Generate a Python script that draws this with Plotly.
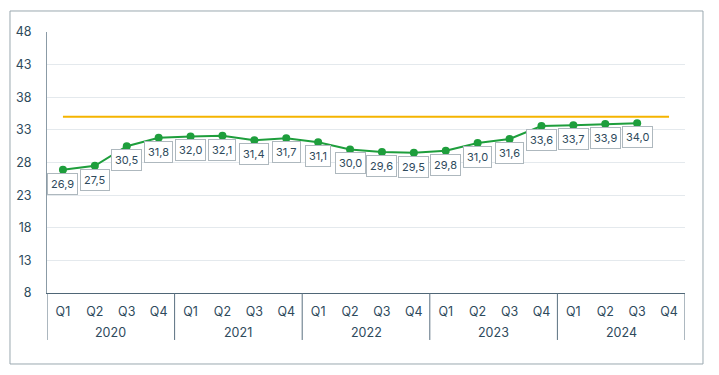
import plotly.graph_objects as go

years = ["2020", "2021", "2022", "2023", "2024"]
quarter_names = ["Q1", "Q2", "Q3", "Q4"]
categories = [f"{y} {q}" for y in years for q in quarter_names]
quarters = [q for y in years for q in quarter_names]
values = [26.9, 27.5, 30.5, 31.8, 32.0, 32.1, 31.4, 31.7, 31.1, 30.0,
          29.6, 29.5, 29.8, 31.0, 31.6, 33.6, 33.7, 33.9, 34.0]
target = [35] * 20
y_ticks = [8, 13, 18, 23, 28, 33, 38, 43, 48]

n = len(values)
FONT = "Inter, Roboto, sans-serif"
TXT = "#2e4a5c"

fig = go.Figure()
fig.add_trace(go.Scatter(
    x=categories, y=target, mode="lines",
    line=dict(color="#f5b400", width=2), hoverinfo="skip", showlegend=False))
fig.add_trace(go.Scatter(
    x=categories[:n], y=values, mode="lines+markers",
    line=dict(color="#1e9e3c", width=2), marker=dict(size=8, color="#1e9e3c"),
    showlegend=False))

for i, v in enumerate(values):
    fig.add_annotation(
        x=categories[i], y=v, text=f"{v:.1f}".replace(".", ","), showarrow=False,
        yshift=-14, bgcolor="white", bordercolor="#aeb8be", borderwidth=1,
        borderpad=3, font=dict(family=FONT, size=11, color=TXT))

# year group labels and dividers
for k, yr in enumerate(years):
    fig.add_annotation(
        x=4 * k + 1.5, xref="x", y=-0.153, yref="paper", text=yr,
        showarrow=False, yanchor="middle", font=dict(family=FONT, size=12.5, color=TXT))
for k in range(len(years) + 1):
    fig.add_shape(type="line", xref="x", yref="paper",
                  x0=4 * k - 0.5, x1=4 * k - 0.5, y0=0, y1=-0.18,
                  line=dict(color="#5a7080", width=1))

fig.add_shape(type="rect", xref="paper", yref="paper",
              x0=-0.058, x1=1.0282, y0=-0.272, y1=1.0805,
              line=dict(color="#9aa8b0", width=1))

fig.update_layout(
    width=719, height=375,
    margin=dict(l=39, r=42, t=24, b=90, autoexpand=False),
    paper_bgcolor="white", plot_bgcolor="white",
    font=dict(family=FONT, size=12, color=TXT),
    xaxis=dict(type="category", range=[-0.5, 19.5], autorange=False,
               automargin=False, tickvals=categories, ticktext=quarters,
               showgrid=False, showline=True, ticks="",
               linecolor="#4f6676", linewidth=1, ticklabelstandoff=7,
               tickfont=dict(size=12.5, color=TXT)),
    yaxis=dict(range=[8, 48], tickvals=y_ticks, showgrid=True, automargin=False,
               gridcolor="#e4e9ed", gridwidth=1, showline=True,
               linecolor="#8b9ba6", linewidth=1, zeroline=False,
               ticklabelstandoff=12, tickfont=dict(size=12.5, color=TXT)),
)

fig.write_html("out.html")
